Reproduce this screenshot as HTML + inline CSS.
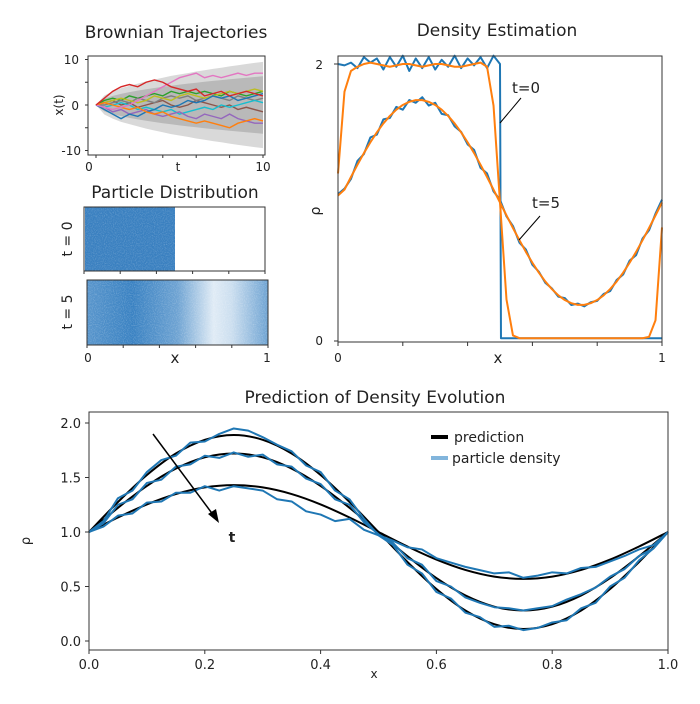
<!DOCTYPE html>
<html><head><meta charset="utf-8"><style>
body{margin:0;background:#fff}
svg text{font-family:"DejaVu Sans","Liberation Sans",sans-serif;fill:#222}
</style></head><body>
<svg id="fig" width="700" height="699" viewBox="0 0 700 699" xmlns="http://www.w3.org/2000/svg">
<defs>
<filter id="grain" x="0" y="0" width="100%" height="100%">
<feTurbulence type="fractalNoise" baseFrequency="0.9" numOctaves="2" seed="3"/>
<feColorMatrix type="matrix" values="0 0 0 0 1  0 0 0 0 1  0 0 0 0 1  0 0 0 1.4 -0.6"/>
</filter>
<linearGradient id="g5" x1="0" x2="1" y1="0" y2="0">
<stop offset="0" stop-color="#2f7bbf" stop-opacity="0.8"/>
<stop offset="0.25" stop-color="#2f7bbf" stop-opacity="0.95"/>
<stop offset="0.5" stop-color="#2f7bbf" stop-opacity="0.7"/>
<stop offset="0.7" stop-color="#2f7bbf" stop-opacity="0.15"/>
<stop offset="0.8" stop-color="#2f7bbf" stop-opacity="0.25"/>
<stop offset="1" stop-color="#2f7bbf" stop-opacity="0.7"/>
</linearGradient>
</defs>

<text x="176" y="38" font-size="17" text-anchor="middle">Brownian Trajectories</text>
<g id="bt"></g>
<rect x="88" y="56" width="177" height="99" fill="none" stroke="#333" stroke-width="1"/>
<text x="79" y="64" font-size="12" text-anchor="end">10</text>
<text x="79" y="110" font-size="12" text-anchor="end">0</text>
<text x="81" y="155" font-size="12" text-anchor="end">-10</text>
<text x="63" y="105" font-size="12" text-anchor="middle" transform="rotate(-90 63 105)">x(t)</text>
<text x="89" y="171" font-size="12" text-anchor="middle">0</text>
<text x="178" y="171" font-size="12" text-anchor="middle">t</text>
<text x="263" y="171" font-size="12" text-anchor="middle">10</text>

<text x="175" y="198" font-size="17" text-anchor="middle">Particle Distribution</text>
<rect x="85" y="207" width="90" height="64" fill="#3a80c0"/>
<rect x="85" y="207" width="90" height="64" filter="url(#grain)" opacity="0.35"/>
<rect x="84" y="207" width="181" height="64" fill="none" stroke="#333"/>
<text x="72" y="239" font-size="14" text-anchor="middle" transform="rotate(-90 72 239)">t = 0</text>
<rect x="87" y="280" width="181" height="65" fill="url(#g5)"/>
<rect x="87" y="280" width="181" height="65" filter="url(#grain)" opacity="0.4"/>
<rect x="87" y="280" width="181" height="65" fill="none" stroke="#333"/>
<text x="72" y="312" font-size="14" text-anchor="middle" transform="rotate(-90 72 312)">t = 5</text>
<g id="pdticks" stroke="#333"></g>
<text x="88" y="362" font-size="12" text-anchor="middle">0</text>
<text x="175" y="363" font-size="15" text-anchor="middle">x</text>
<text x="267" y="362" font-size="12" text-anchor="middle">1</text>

<text x="497" y="36" font-size="17" text-anchor="middle">Density Estimation</text>
<g id="de"></g>
<rect x="338" y="56" width="324" height="286" fill="none" stroke="#333"/>
<text x="323" y="69" font-size="12" text-anchor="end">2</text>
<text x="323" y="345" font-size="12" text-anchor="end">0</text>
<text x="320" y="211" font-size="14" text-anchor="middle" transform="rotate(-90 320 211)">ρ</text>
<text x="338" y="362" font-size="12" text-anchor="middle">0</text>
<text x="498" y="363" font-size="15" text-anchor="middle">x</text>
<text x="662" y="362" font-size="12" text-anchor="middle">1</text>
<line x1="521" y1="98" x2="500" y2="123" stroke="#000"/>
<text x="512" y="93" font-size="15">t=0</text>
<line x1="540" y1="216" x2="519" y2="240" stroke="#000"/>
<text x="532" y="208" font-size="15">t=5</text>

<text x="375" y="403" font-size="17" text-anchor="middle">Prediction of Density Evolution</text>
<g id="pr"></g>
<rect x="89" y="412" width="579" height="238" fill="none" stroke="#333"/>
<text x="30" y="541" font-size="13" text-anchor="middle" transform="rotate(-90 30 541)">ρ</text>
<text x="374" y="678" font-size="12" text-anchor="middle">x</text>
<line x1="153" y1="434" x2="214" y2="516" stroke="#000" stroke-width="1.5"/>
<path d="M219,523 L208,514 L216,509 Z" fill="#000"/>
<text x="232" y="542" font-size="14" font-weight="bold" text-anchor="middle" font-family="Liberation Serif,serif">t</text>
<line x1="431" y1="437" x2="448" y2="437" stroke="#000" stroke-width="4"/>
<text x="454" y="442" font-size="14">prediction</text>
<line x1="431" y1="458" x2="448" y2="458" stroke="#82b5dc" stroke-width="4"/>
<text x="452" y="463" font-size="14">particle density</text>
</svg>
<script>
const bandOuter=[0,2.1,3,3.7,4.2,4.7,5.2,5.6,6,6.4,6.7,7,7.35,7.65,7.94,8.2,8.49,8.75,9,9.25,9.49];
const bandInner=[0,1.4,2,2.45,2.83,3.16,3.46,3.74,4,4.24,4.47,4.69,4.9,5.1,5.29,5.48,5.66,5.83,6,6.16,6.32];
const trajRed=[0,1.5,3,4,4.5,4,5,5.5,5,4,3.5,3,3.5,2,2.5,3,2,2.5,3,2.5,2];
const trajPink=[0,-0.5,-1,-0.5,0,1,2,3,4,5,6,6.5,7,6,6.5,6,6.5,7,6.5,7,7];
const trajBlue=[0,-1,-2,-3,-2,-2.5,-1.5,-1,0,-0.5,0,1,0.5,1,2,1.5,2,1,1.5,2,2.5];
const trajOrange=[0,0.5,0,-0.5,-1,-0.5,-1.5,-2,-1.5,-2.5,-3,-3.5,-4,-3.5,-4,-4.5,-5,-4,-3.5,-3,-3.5];
const trajGreen=[0,1,1.5,1,2,1.5,2,2.5,2,3,2.5,3,2.5,3,2.5,2,3,2.5,2,2.5,3];
const trajPurple=[0,-0.5,-1.5,-1,-2,-1.5,-1,-2,-2.5,-2,-1.5,-2.5,-3,-2,-2.5,-3,-2,-3,-3.5,-4,-4];
const trajBrown=[0,0.5,1,0,0.5,-0.5,0,0.5,1,0,-0.5,0,1,0.5,0,-0.5,0,-1,-0.5,-1,-1.5];
const trajGray=[0,0,0.5,1,0.5,1.5,1,0.5,1.5,2,1.5,2,1,1.5,2,1.5,1,2,1.5,1,1.5];
const trajOlive=[0,0.5,1,1.5,1,0.5,1,2,1.5,1,2,2.5,2,1.5,2,2.5,3,2.5,3,3.5,3];
const trajCyan=[0,-0.5,0,0.5,0,-1,-0.5,-1,-1.5,-1,-2,-1.5,-1,-0.5,-1,0,-0.5,0,0.5,1,0.5];
const t0Particle=[2.0,1.99,2.01,1.97,2.05,2.01,2.04,1.96,2.05,1.98,2.06,1.95,2.04,1.97,2.05,1.96,2.03,1.98,2.06,1.97,2.04,1.99,2.05,1.97,2.06,2.0,0.02,0.02,0.02,0.02,0.02,0.02,0.02,0.02,0.02,0.02,0.02,0.02,0.02,0.02,0.02,0.02,0.02,0.02,0.02,0.02,0.02,0.02,0.02,0.02,0.02];
const t0Kde=[1.21,1.8,1.95,1.98,2.0,2.01,2.0,1.99,1.98,1.99,2.0,2.0,1.99,1.98,1.99,2.0,2.0,1.99,1.98,1.98,1.99,2.0,2.01,1.98,1.7,1.0,0.3,0.04,0.02,0.02,0.02,0.02,0.02,0.02,0.02,0.02,0.02,0.02,0.02,0.02,0.02,0.02,0.02,0.02,0.02,0.02,0.02,0.02,0.03,0.15,0.82];
const t5Particle=[1.06,1.10,1.17,1.30,1.35,1.47,1.49,1.60,1.61,1.69,1.67,1.74,1.72,1.76,1.70,1.72,1.64,1.63,1.55,1.51,1.42,1.38,1.25,1.21,1.08,1.02,0.90,0.83,0.71,0.66,0.55,0.50,0.42,0.38,0.32,0.31,0.26,0.27,0.25,0.28,0.29,0.34,0.36,0.44,0.48,0.58,0.62,0.74,0.80,0.92,1.02];
const t5Kde=[1.05,1.093,1.184,1.272,1.357,1.435,1.507,1.571,1.625,1.670,1.704,1.727,1.739,1.739,1.727,1.704,1.670,1.625,1.571,1.507,1.435,1.357,1.272,1.184,1.093,1,0.907,0.816,0.728,0.643,0.565,0.493,0.429,0.375,0.330,0.296,0.273,0.261,0.261,0.273,0.296,0.330,0.375,0.429,0.493,0.565,0.643,0.728,0.816,0.907,1.0];
const xTicks=["0.0","0.2","0.4","0.6","0.8","1.0"];
const yTicks=["0.0","0.5","1.0","1.5","2.0"];
const predA=[1,1.275,1.523,1.720,1.846,1.89,1.846,1.720,1.523,1.275,1.0,0.725,0.477,0.280,0.154,0.11,0.154,0.28,0.477,0.725,1.0];
const predB=[1,1.222,1.423,1.582,1.685,1.72,1.685,1.582,1.423,1.222,1,0.778,0.577,0.418,0.315,0.28,0.315,0.418,0.577,0.778,1];
const predC=[1,1.133,1.253,1.348,1.409,1.43,1.409,1.348,1.253,1.133,1,0.867,0.747,0.652,0.591,0.57,0.591,0.652,0.747,0.867,1];
const partA=[1.0,1.10,1.31,1.38,1.55,1.66,1.70,1.82,1.83,1.90,1.95,1.93,1.87,1.80,1.74,1.61,1.55,1.38,1.30,1.12,0.97,0.88,0.70,0.62,0.45,0.39,0.26,0.22,0.13,0.14,0.10,0.12,0.17,0.19,0.30,0.35,0.50,0.58,0.74,0.85,1.0];
const partB=[1.0,1.08,1.25,1.30,1.45,1.48,1.60,1.62,1.70,1.68,1.73,1.69,1.71,1.62,1.60,1.49,1.44,1.30,1.25,1.09,0.98,0.90,0.76,0.70,0.55,0.50,0.40,0.35,0.31,0.30,0.28,0.30,0.32,0.38,0.43,0.49,0.59,0.66,0.78,0.85,1.0];
const partC=[1.0,1.05,1.15,1.17,1.27,1.28,1.36,1.36,1.42,1.38,1.42,1.40,1.38,1.30,1.28,1.19,1.16,1.10,1.12,1.02,0.97,0.92,0.86,0.84,0.76,0.72,0.68,0.65,0.62,0.63,0.58,0.60,0.63,0.62,0.67,0.68,0.73,0.78,0.84,0.88,1.0];

const NS="http://www.w3.org/2000/svg";
function mk(parent,tag,attrs){const e=document.createElementNS(NS,tag);for(const k in attrs)e.setAttribute(k,attrs[k]);parent.appendChild(e);return e;}
function pts(arr,fx,fy){return arr.map((v,i)=>fx(i,arr.length)+","+fy(v)).join(" ");}

const bt=document.getElementById('bt');
const bX=t=>96+t*16.7, bY=v=>105-v*4.55;
const tAt=(i,n)=>bX(i*10/(n-1));
function band(arr,fill){
  const up=arr.map((v,i)=>tAt(i,arr.length)+","+bY(v));
  const dn=arr.map((v,i)=>tAt(i,arr.length)+","+bY(-v)).reverse();
  const p=mk(bt,'polygon',{points:up.concat(dn).join(" "),fill:fill});
  
  
}
band(bandOuter,"#d9d9d9");band(bandInner,"#b9b9b9");
const trajs=[[trajGreen,"#2ca02c"],[trajBrown,"#8c564b"],[trajGray,"#7f7f7f"],[trajOlive,"#bcbd22"],[trajCyan,"#17becf"],[trajPurple,"#9467bd"],[trajBlue,"#1f77b4"],[trajOrange,"#ff7f0e"],[trajPink,"#e377c2"],[trajRed,"#d62728"]];
trajs.forEach(([a,c])=>{
  const l=mk(bt,'polyline',{points:pts(a,tAt,bY),fill:"none",stroke:c,"stroke-width":1.4});
  
  
});
[0,2,4,6,8,10].forEach(t=>mk(bt,'line',{x1:bX(t),x2:bX(t),y1:155,y2:158,stroke:"#333"}));
[-10,-5,0,5,10].forEach(v=>mk(bt,'line',{x1:85,x2:88,y1:bY(v),y2:bY(v),stroke:"#333"}));

const pdt=document.getElementById('pdticks');
[0,0.2,0.4,0.6,0.8,1].forEach(f=>{mk(pdt,'line',{x1:84+f*181,x2:84+f*181,y1:271,y2:274});mk(pdt,'line',{x1:87+f*181,x2:87+f*181,y1:345,y2:348});});

const de=document.getElementById('de');
const dX=x=>338+x*324, dY=r=>341-r*138.5;
const kX=(i,n)=>dX(i/(n-1));
const t0X=(i,n)=>dX(i<=25?i/50:(i===26?0.503:(i)/50));
[[t0Particle,"#1f77b4",t0X,'t0-particle-density'],[t5Particle,"#1f77b4",kX,'t5-particle-density'],[t0Kde,"#ff7f0e",kX,'t0-kde'],[t5Kde,"#ff7f0e",kX,'t5-kde']].forEach(([a,c,fx,n])=>{
  const l=mk(de,'polyline',{points:pts(a,fx,dY),fill:"none",stroke:c,"stroke-width":2,"stroke-linejoin":"round"});
  
  
});
[0,0.2,0.4,0.6,0.8,1].forEach(f=>mk(de,'line',{x1:dX(f),x2:dX(f),y1:342,y2:346,stroke:"#333"}));
[0,2].forEach(r=>mk(de,'line',{x1:334,x2:338,y1:dY(r),y2:dY(r),stroke:"#333"}));

const pr=document.getElementById('pr');
const pX=x=>89+x*579, pY=r=>641-r*109;
const iX=(i,n)=>pX(i/(n-1));
function smooth(arr){
  const P=arr.map((v,i)=>[iX(i,arr.length),pY(v)]);
  let d="M"+P[0].join(",");
  for(let i=0;i<P.length-1;i++){
    const p0=P[Math.max(i-1,0)],p1=P[i],p2=P[i+1],p3=P[Math.min(i+2,P.length-1)];
    d+=" C"+(p1[0]+(p2[0]-p0[0])/6)+","+(p1[1]+(p2[1]-p0[1])/6)+" "+(p2[0]-(p3[0]-p1[0])/6)+","+(p2[1]-(p3[1]-p1[1])/6)+" "+p2[0]+","+p2[1];
  }
  return d;
}
[predA,predB,predC].forEach(a=>{
  const l=mk(pr,'path',{d:smooth(a),fill:"none",stroke:"#000","stroke-width":2});
  
  
});
[partA,partB,partC].forEach(a=>{
  const l=mk(pr,'polyline',{points:pts(a,iX,pY),fill:"none",stroke:"#1f77b4","stroke-width":2,"stroke-linejoin":"round"});
  
  
});
xTicks.forEach((s,i)=>{
  const x=pX(i/(xTicks.length-1));
  mk(pr,'line',{x1:x,x2:x,y1:650,y2:654,stroke:"#333"});
  const t=mk(pr,'text',{x:x,y:669,"font-size":13,"text-anchor":"middle"});t.textContent=s;
  
  
});
yTicks.forEach((s,i)=>{
  const y=pY(parseFloat(s));
  mk(pr,'line',{x1:85,x2:89,y1:y,y2:y,stroke:"#333"});
  const t=mk(pr,'text',{x:81,y:y+5,"font-size":13,"text-anchor":"end"});t.textContent=s;
  
  
});
</script>
</body></html>
